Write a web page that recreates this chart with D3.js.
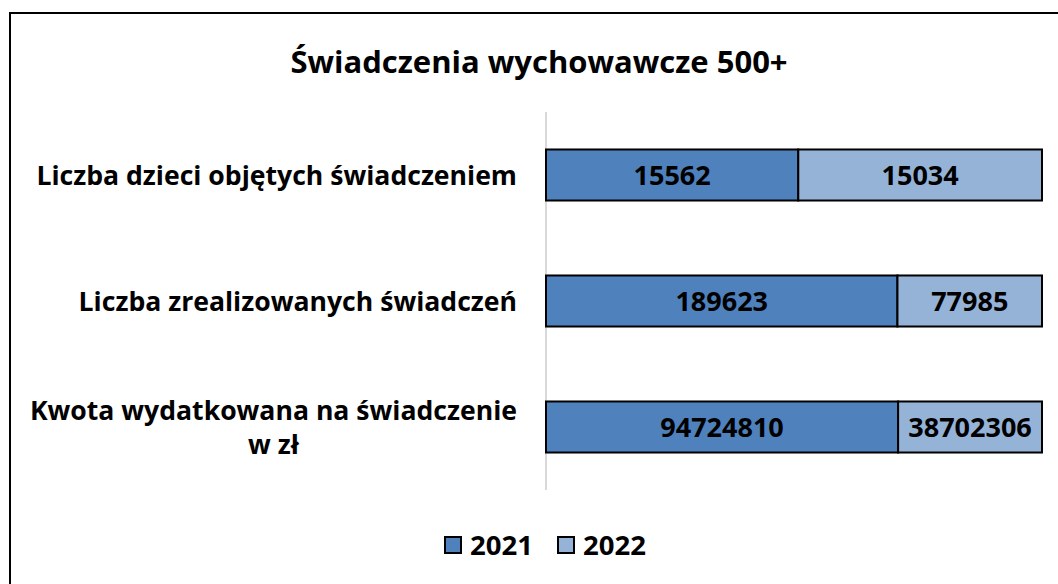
<!DOCTYPE html>
<html>
<head>
<meta charset="utf-8">
<script src="https://cdn.jsdelivr.net/npm/d3@7"></script>
<style>
  body { margin: 0; background: #fff; }
  text { font-family: "Open Sans", sans-serif; font-weight: bold; fill: #000; }
</style>
</head>
<body>
<div id="chart"></div>
<script>
// chart data
var categories = ["Liczba dzieci objętych świadczeniem", "Liczba zrealizowanych świadczeń", "Kwota wydatkowana na świadczenie w zł"];
var labelLines = [["Liczba dzieci objętych świadczeniem"], ["Liczba zrealizowanych świadczeń"], ["Kwota wydatkowana na świadczenie", "w zł"]];
var years = ["2021", "2022"];
var values2021 = [15562, 189623, 94724810];
var values2022 = [15034, 77985, 38702306];
var colors = ["#4f81bd", "#95b3d7"];

var svgWidth = 1058;
var svgHeight = 584;
var margin = { top: 112, right: 16, bottom: 94, left: 546 };

var svg = d3.select("#chart")
  .append("svg")
  .attr("width", svgWidth)
  .attr("height", svgHeight);

// chart area border (right and bottom edges fall outside the picture)
svg.append("rect")
  .attr("x", 10)
  .attr("y", 13)
  .attr("width", svgWidth + 20)
  .attr("height", svgHeight + 20)
  .attr("fill", "none")
  .attr("stroke", "#000")
  .attr("stroke-width", 2);

// title
svg.append("text")
  .attr("x", 539)
  .attr("y", 73)
  .attr("text-anchor", "middle")
  .style("font-size", "31px")
  .text("Świadczenia wychowawcze 500+");

var rows = categories.map(function (c, i) {
  return { category: c, "2021": values2021[i], "2022": values2022[i] };
});

var stacked = d3.stack()
  .keys(years)
  .offset(d3.stackOffsetExpand)(rows);

var xScale = d3.scaleLinear()
  .domain([0, 1])
  .range([margin.left, svgWidth - margin.right]);

var yScale = d3.scaleBand()
  .domain(categories)
  .range([margin.top, svgHeight - margin.bottom])
  .paddingInner(0.595)
  .paddingOuter(0.2975);

// axis line
svg.append("line")
  .attr("x1", xScale(0))
  .attr("x2", xScale(0))
  .attr("y1", margin.top)
  .attr("y2", svgHeight - margin.bottom)
  .attr("stroke", "#d9d9d9")
  .attr("stroke-width", 2);

// bars
var layers = svg.selectAll("g.layer")
  .data(stacked)
  .enter()
  .append("g")
  .attr("class", "layer")
  .attr("fill", (d, i) => colors[i]);

layers.selectAll("rect")
  .data(d => d)
  .enter()
  .append("rect")
  .attr("x", d => xScale(d[0]))
  .attr("y", d => yScale(d.data.category))
  .attr("width", d => xScale(d[1]) - xScale(d[0]))
  .attr("height", yScale.bandwidth())
  .attr("stroke", "#000")
  .attr("stroke-width", 2);

// value labels
layers.selectAll("text")
  .data(function (d) { return d.map(function (p) { return { p: p, key: d.key }; }); })
  .enter()
  .append("text")
  .attr("x", d => (xScale(d.p[0]) + xScale(d.p[1])) / 2)
  .attr("y", d => yScale(d.p.data.category) + yScale.bandwidth() / 2)
  .attr("dy", "0.36em")
  .attr("text-anchor", "middle")
  .style("font-size", "27px")
  .text(d => d.p.data[d.key]);

// category labels, centred lines in a block right-aligned to the axis
var labelRight = xScale(0) - 29;
var lineHeight = 34;
categories.forEach(function (c, i) {
  var lines = labelLines[i];
  var g = svg.append("g");
  var texts = g.selectAll("text")
    .data(lines)
    .enter()
    .append("text")
    .attr("text-anchor", "middle")
    .style("font-size", "26.6px")
    .attr("dy", "0.36em")
    .text(d => d);
  var maxW = d3.max(texts.nodes(), n => n.getComputedTextLength());
  var cy = yScale(c) + yScale.bandwidth() / 2;
  texts
    .attr("x", labelRight - maxW / 2)
    .attr("y", (d, j) => cy + (j - (lines.length - 1) / 2) * lineHeight);
});

// legend
var legendItems = [{ x: 445, name: years[0], color: colors[0] }, { x: 558, name: years[1], color: colors[1] }];
var legend = svg.selectAll("g.legend")
  .data(legendItems)
  .enter()
  .append("g")
  .attr("class", "legend")
  .attr("transform", d => `translate(${d.x}, 545)`);

legend.append("rect")
  .attr("x", 0)
  .attr("y", -8)
  .attr("width", 16)
  .attr("height", 16)
  .attr("fill", d => d.color)
  .attr("stroke", "#000")
  .attr("stroke-width", 2);

legend.append("text")
  .attr("x", 25)
  .attr("dy", "0.36em")
  .style("font-size", "27.5px")
  .text(d => d.name);
</script>
</body>
</html>
